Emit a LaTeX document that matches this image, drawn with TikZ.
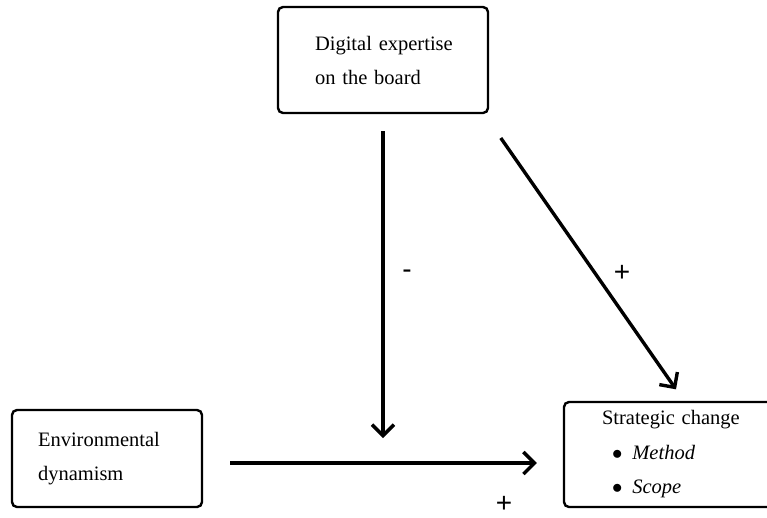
\documentclass[tikz,border=0pt]{standalone}
\usepackage{fontspec}
\setmainfont{Liberation Serif}
\newfontfamily\signfont{Liberation Sans}
\usetikzlibrary{arrows.meta}

\begin{document}
\begin{tikzpicture}[x=1pt,y=-1pt,
    box/.style={draw,line width=2.4pt,rounded corners=5pt,align=left,
      font=\fontsize{20.5}{34}\selectfont,minimum height=#1},
    link/.style={line width=3.4pt,-{Straight Barb[length=11pt,width=22pt]}},
    sign/.style={font=\signfont\fontsize{28}{28}\selectfont,inner sep=0pt}]
  \clip (0,0) rectangle (767,517);
  \node[box=106pt,text width=150pt,inner xsep=30pt] (expertise) at (383,60)
    {\hspace*{7pt}Digital expertise\\\hspace*{7pt}on the board};
  \node[box=97pt,text width=150pt,inner xsep=20pt] (dynamism) at (107,458.5)
    {\hspace*{6pt}Environmental\\\hspace*{6pt}dynamism};
  \node[box=105pt,text width=164pt,inner xsep=38pt,font=\fontsize{20.5}{34.5}\selectfont] (change) at (684,454.5)
    {Strategic change\\\hspace*{10pt}$\bullet$\hspace{10pt}\textit{Method}\\\hspace*{10pt}$\bullet$\hspace{10pt}\textit{Scope}};
  \coordinate (hit) at (382,463);
  % moderation and direct effects
  \draw[link,shorten <=17pt,shorten >=25pt] (expertise.south) -- (expertise.south |- hit);
  \draw[link,shorten <=29pt,shorten >=14pt] ([xshift=-5pt]expertise.south east) -- (change.north);
  \draw[link,shorten <=27pt,shorten >=26pt] (dynamism.east |- hit) -- (change.west |- hit);
  \node[sign] (minus) at (407,274) {-};
  \node[sign] (plusdiag) at (622,273) {+};
  \node[sign] (plusmain) at (504,504) {+};
\end{tikzpicture}
\end{document}
